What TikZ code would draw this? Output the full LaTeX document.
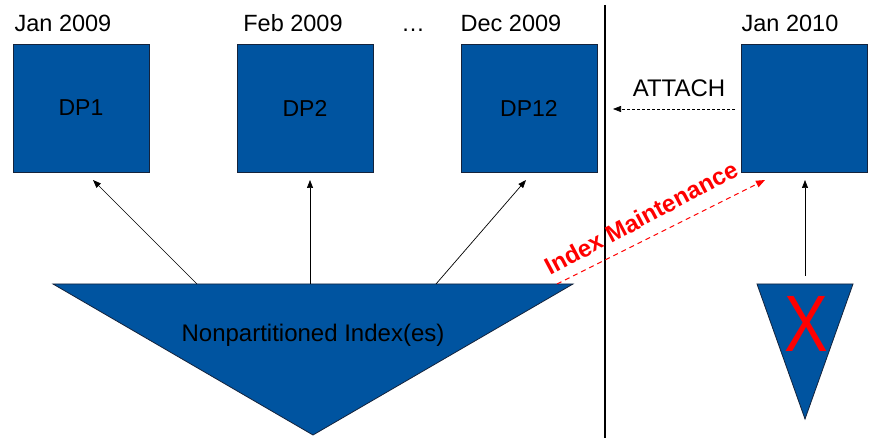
\documentclass[tikz,border=0pt]{standalone}
\usepackage{fontspec}
\setmainfont{Liberation Sans}
\usetikzlibrary{arrows.meta}
\definecolor{dpblue}{RGB}{0,84,160}
\definecolor{edge}{RGB}{20,35,60}
\tikzset{
  partbox/.style={draw=edge, line width=0.8pt, fill=dpblue, minimum width=136pt, minimum height=128pt, inner sep=0pt, font=\fontsize{23}{27}\selectfont},
  datelabel/.style={anchor=base, inner sep=0pt, font=\fontsize{23.5}{27}\selectfont},
  link/.style={line width=0.7pt, -{Triangle[length=8pt,width=6pt]}},
  attachline/.style={line width=0.7pt, dash pattern=on 3pt off 2pt, -{Triangle[length=8pt,width=6pt]}},
  maintline/.style={red, line width=1pt, dash pattern=on 5pt off 4pt, -{Triangle[length=9pt,width=7pt]}},
  tri/.style={draw=edge, line width=0.8pt, fill=dpblue},
}
\begin{document}
\begin{tikzpicture}[x=1pt, y=-1pt]
\useasboundingbox (0,0) rectangle (870,438);

% monthly data partitions
\node[partbox] (dp1)  at (81,108)  {DP1};
\node[partbox] (dp2)  at (305,108) {DP2};
\node[partbox] (dp12) at (529,108) {DP12};
\node[partbox, minimum width=126pt] (new) at (804,108) {};

% period labels
\node[datelabel] (l1)  at (63,32)  {Jan 2009};
\node[datelabel] (l2)  at (293,32) {Feb 2009};
\node[datelabel] (ld)  at (413,32) {…};
\node[datelabel] (l12) at (511,32) {Dec 2009};
\node[datelabel] (ln)  at (790,32) {Jan 2010};

% separator
\draw[line width=2.6pt] (605,5) -- (605,438);

% nonpartitioned index
\draw[tri] (53,284) -- (573,284) -- (313,435) -- cycle;
\node[font=\fontsize{24}{28}\selectfont] (npi) at (313,335) {Nonpartitioned Index(es)};
\coordinate (t1) at (197,284);
\coordinate (t2) at (310,284);
\coordinate (t3) at (436,284);
\coordinate (tr) at (557,284);

% index on the new partition
\draw[tri] (757,284) -- (853,284) -- (805,419) -- cycle;
\node[red, font=\fontsize{80}{86}\selectfont, inner sep=0pt, xscale=0.82] (x) at (806,324) {X};
\coordinate (st) at (805,276);

% index to partition links
\draw[link] (t1) -- (93,180);
\draw[link] (t2) -- (310,180);
\draw[link] (t3) -- (526,180);
\draw[link] (st) -- (805,180);

% attach
\coordinate (as) at (735,109);
\coordinate (ae) at (613,109);
\draw[attachline] (as) -- (ae);
\node[font=\fontsize{24}{28}\selectfont] (att) at (679,88) {ATTACH};

% index maintenance
\coordinate (me) at (765,180);
\draw[maintline] (tr) -- (me);
\node[red, font=\bfseries\fontsize{24}{28}\selectfont, rotate=28] (im) at (641,218) {Index Maintenance};
\end{tikzpicture}
\end{document}
